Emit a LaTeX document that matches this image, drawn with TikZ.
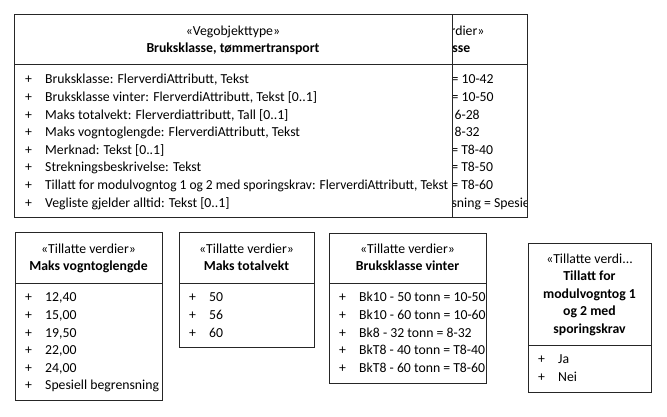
\documentclass[tikz,border=0pt]{standalone}
\usepackage{fontspec}
\setmainfont{Carlito}
\usepackage{tikz}

\tikzset{
  umlbox/.style={draw=black!85, line width=0.9pt, fill=white},
  umlline/.style={draw=black!85, line width=0.9pt},
  stereo/.style={font=\fontsize{13.8}{17}\selectfont, inner sep=0pt, anchor=mid, yshift=-2pt},
  classname/.style={font=\fontsize{13.8}{17.5}\selectfont\bfseries, inner sep=0pt, anchor=mid, yshift=-2pt},
  entry/.style={font=\fontsize{13.8}{17}\selectfont, inner sep=0pt, anchor=mid west, yshift=-2.5pt},
}

% #1 name, #2 x of the plus, #3 y of first row, #4 rows
\newcommand{\umlentries}[4]{%
  \foreach \t [count=\i from 0] in {#4} {
    \node[entry] (#1p\i) at (#2, {#3+\i*17.6}) {+};
    \node[entry] (#1e\i) at ({#2+20}, {#3+\i*17.6}) {\t};
  }%
}

\begin{document}
\begin{tikzpicture}[x=1bp, y=-1bp]
  \useasboundingbox (0,0) rectangle (667,416);

  % enum Bruksklasse, mostly hidden behind the class
  \draw[umlbox] (337,14) rectangle (527,217);
  \draw[umlline] (337,64) -- (527,64);
  \begin{scope}
    \clip (337,14) rectangle (526,217);
    \node[stereo] (bkS) at (437,31) {«Tillatte verdier»};
    \node[classname] (bkN) at (437,48) {Bruksklasse};
    \umlentries{bk}{347}{79}{{Bk10 - 42 tonn = 10-42}, {Bk10 - 50 tonn = 10-50},
      {Bk6 - 28 tonn = 6-28}, {Bk8 - 32 tonn = 8-32}, {BkT8 - 40 tonn = T8-40},
      {BkT8 - 50 tonn = T8-50}, {BkT8 - 60 tonn = T8-60},
      {Spesiell begrensning = Spesiell begrensning}}
  \end{scope}

  % the class itself
  \draw[umlbox] (14,14) rectangle (452,217);
  \draw[umlline] (14,64) -- (452,64);
  \node[stereo] (vtS) at (233,31) {«Vegobjekttype»};
  \node[classname] (vtN) at (233,48) {Bruksklasse, tømmertransport};
  \umlentries{vt}{25}{79}{{Bruksklasse: FlerverdiAttributt, Tekst},
    {Bruksklasse vinter: FlerverdiAttributt, Tekst [0..1]},
    {Maks totalvekt: Flerverdiattributt, Tall [0..1]},
    {Maks vogntoglengde: FlerverdiAttributt, Tekst},
    {Merknad: Tekst [0..1]},
    {Strekningsbeskrivelse: Tekst},
    {\resizebox{403bp}{\height}{Tillatt for modulvogntog 1 og 2 med sporingskrav: FlerverdiAttributt, Tekst}},
    {Vegliste gjelder alltid: Tekst [0..1]}}

  % Maks vogntoglengde
  \draw[umlbox] (15,232) rectangle (162,400);
  \draw[umlline] (15,283) -- (162,283);
  \node[stereo] (vlS) at (88.5,249) {«Tillatte verdier»};
  \node[classname] (vlN) at (88.5,266) {Maks vogntoglengde};
  \umlentries{vl}{25}{297}{{12,40}, {15,00}, {19,50}, {22,00}, {24,00}, {Spesiell begrensning}}

  % Maks totalvekt
  \draw[umlbox] (179,232) rectangle (314,347);
  \draw[umlline] (179,283) -- (314,283);
  \node[stereo] (tvS) at (246.5,249) {«Tillatte verdier»};
  \node[classname] (tvN) at (246.5,266) {Maks totalvekt};
  \umlentries{tv}{189}{297}{50, 56, 60}

  % Bruksklasse vinter
  \draw[umlbox] (329,233) rectangle (486,383);
  \draw[umlline] (329,283) -- (486,283);
  \node[stereo] (bvS) at (407.5,249) {«Tillatte verdier»};
  \node[classname] (bvN) at (407.5,266) {Bruksklasse vinter};
  \umlentries{bv}{339}{297}{{Bk10 - 50 tonn = 10-50}, {Bk10 - 60 tonn = 10-60},
    {Bk8 - 32 tonn = 8-32}, {BkT8 - 40 tonn = T8-40}, {BkT8 - 60 tonn = T8-60}}

  % Tillatt for modulvogntog
  \draw[umlbox] (528,243) rectangle (651,392);
  \draw[umlline] (528,345) -- (651,345);
  \node[stereo] (mvS) at (589.5,259) {«Tillatte verdi...};
  \node[classname, align=center, anchor=north] (mvN) at (589.5,269)
    {Tillatt for\\modulvogntog 1\\og 2 med\\sporingskrav};
  \umlentries{mv}{538}{359}{Ja, Nei}
\end{tikzpicture}
\end{document}
